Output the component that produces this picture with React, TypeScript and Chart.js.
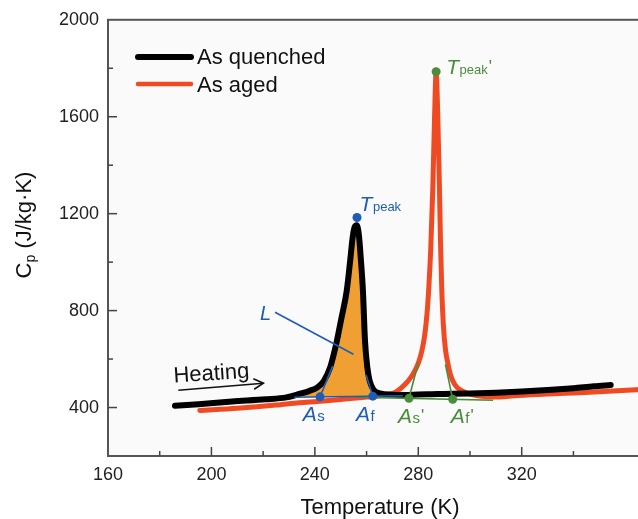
import { useEffect, useRef } from 'react';
import { Chart, registerables } from 'chart.js';

Chart.register(...registerables);

const FONT = '"Liberation Sans", Arial, Helvetica, sans-serif';
const BLUE = '#1f5cb8';
const GREEN = '#4a8c3c';
const RED = '#f04a23';
const ORANGE = '#f0a033';

// As quenched
const quenchedT = [185.9, 195, 208, 221, 229, 234, 238, 241, 243.5, 245.9, 247.2, 248.5, 250.3, 252.3, 253.6, 254.6, 255.4, 256.2, 257, 257.8, 258.6, 259.4, 260.3, 261.2, 262.6, 265.2, 270, 275, 280, 285, 290, 300, 310, 320, 330, 340, 348, 354.4];
const quenchedCp = [407, 414, 425, 434, 442, 456, 469, 483, 510, 565, 615, 674, 770, 880, 1000, 1100, 1145, 1152, 1115, 1010, 880, 674, 565, 510, 475, 458, 453, 452, 454, 455, 456, 458, 461, 466, 472, 480, 488, 493];

// As aged
const agedT = [195.5, 210, 225, 234, 241, 250, 260, 266.4, 271, 274.8, 277.5, 279.9, 281.3, 282.5, 283.4, 284.1, 284.8, 285.6, 286.3, 286.9, 287.5, 288.1, 288.6, 289.1, 289.7, 290.5, 291.5, 292.6, 294.1, 296.3, 299.3, 303, 309, 318.6, 330, 344.4, 366];
const agedCp = [388, 397, 410, 420, 425, 433, 443, 451, 462, 495, 530, 580, 630, 700, 790, 900, 1050, 1300, 1600, 1786, 1620, 1350, 1080, 880, 740, 640, 580, 530, 495, 472, 458, 448, 443, 450, 456, 462, 474];

// Characteristic points (T, Cp)
const blueDotsT = [242.0, 262.4, 256.3];
const blueDotsCp = [444, 447, 1184];
const greenDotsT = [276.4, 293.3, 286.9];
const greenDotsCp = [438, 434, 1786];

// Construction lines: [T0, Cp0, T1, Cp1]
const baselineQuenched = [232, 442.5, 274, 448.7];
const blueSegments = [
  [232, 442.5, 274, 448.7],
  [242.0, 444, 246.9, 572],
  [262.4, 447, 259.8, 535],
  [224.6, 793, 254.9, 620],
];
const greenSegments = [
  [256.3, 443, 308.9, 430],
  [276.4, 438, 280.0, 585],
  [293.3, 434, 290.5, 578],
];

// Text labels anchored in data coords
const labelDefs = [
  { x: 257.3, y: 1209, color: BLUE, main: 'T', sub: 'peak', prime: '' },
  { x: 290.8, y: 1777, color: GREEN, main: 'T', sub: 'peak', prime: "'" },
  { x: 235.3, y: 345, color: BLUE, main: 'A', sub: 's', prime: '' },
  { x: 255.9, y: 345, color: BLUE, main: 'A', sub: 'f', prime: '' },
  { x: 272.2, y: 337, color: GREEN, main: 'A', sub: 's', prime: "'" },
  { x: 292.6, y: 337, color: GREEN, main: 'A', sub: 'f', prime: "'" },
];
const lLabel = { x: 218.8, y: 761 };
const heatingText = { x: 185.5, y: 503 };
const heatingArrow = [187.2, 471.6, 220.1, 500.4];

const pts = (xs: number[], ys: number[]) => xs.map((x, i) => ({ x, y: ys[i] }));

const axesPlugin = {
  id: 'axesDeco',
  beforeDraw(chart: any) {
    const { ctx, chartArea: a } = chart;
    ctx.save();
    ctx.fillStyle = '#ffffff';
    ctx.fillRect(0, 0, chart.width, chart.height);
    ctx.fillStyle = '#fafafa';
    ctx.fillRect(a.left, a.top, a.right - a.left, a.bottom - a.top);
    ctx.restore();
  },
  afterDraw(chart: any) {
    const { ctx, chartArea: a, scales } = chart;
    const xs = scales.x;
    const ys = scales.y;
    const P = (x: number, y: number) => [xs.getPixelForValue(x), ys.getPixelForValue(y)];
    ctx.save();
    // frame
    ctx.strokeStyle = '#555';
    ctx.lineWidth = 2;
    ctx.strokeRect(a.left, a.top, a.right - a.left, a.bottom - a.top);
    // ticks inward
    ctx.lineWidth = 1.5;
    ctx.strokeStyle = '#444';
    ys.ticks.forEach((t: any) => {
      const v = t.value;
      if (v <= ys.min || v >= ys.max) return;
      const py = ys.getPixelForValue(v);
      const len = v % 400 === 0 ? 9 : 5;
      ctx.beginPath();
      ctx.moveTo(a.left, py);
      ctx.lineTo(a.left + len, py);
      ctx.stroke();
    });
    xs.ticks.forEach((t: any) => {
      const v = t.value;
      if (v <= xs.min || v >= xs.max) return;
      const px = xs.getPixelForValue(v);
      const len = v % 40 === 0 ? 9 : 5;
      ctx.beginPath();
      ctx.moveTo(px, a.bottom);
      ctx.lineTo(px, a.bottom - len);
      ctx.stroke();
    });

    // axis titles
    ctx.fillStyle = '#111';
    ctx.textBaseline = 'alphabetic';
    ctx.textAlign = 'center';
    ctx.font = `22px ${FONT}`;
    ctx.fillText('Temperature (K)', 380, 514);

    // y title rotated
    ctx.save();
    ctx.translate(31, 225);
    ctx.rotate(-Math.PI / 2);
    ctx.textAlign = 'left';
    const yParts = [
      { t: 'C', f: `22px ${FONT}`, dy: 0 },
      { t: 'p', f: `14px ${FONT}`, dy: 4 },
      { t: ' (J/kg·K)', f: `22px ${FONT}`, dy: 0 },
    ];
    let w = 0;
    yParts.forEach((p) => { ctx.font = p.f; w += ctx.measureText(p.t).width; });
    let cx = -w / 2;
    yParts.forEach((p) => { ctx.font = p.f; ctx.fillText(p.t, cx, p.dy); cx += ctx.measureText(p.t).width; });
    ctx.restore();

    // legend
    ctx.lineCap = 'round';
    ctx.strokeStyle = '#000';
    ctx.lineWidth = 6;
    ctx.beginPath(); ctx.moveTo(138, 57); ctx.lineTo(191, 57); ctx.stroke();
    ctx.strokeStyle = RED;
    ctx.lineWidth = 4.5;
    ctx.beginPath(); ctx.moveTo(138, 84); ctx.lineTo(191, 84); ctx.stroke();
    ctx.fillStyle = '#111';
    ctx.textAlign = 'left';
    ctx.font = `22px ${FONT}`;
    ctx.fillText('As quenched', 197, 64);
    ctx.fillText('As aged', 197, 92);

    // point labels
    labelDefs.forEach((l) => {
      const [px, py] = P(l.x, l.y);
      ctx.fillStyle = l.color;
      ctx.font = `italic 21px ${FONT}`;
      ctx.fillText(l.main, px, py);
      let x = px + ctx.measureText(l.main).width;
      ctx.font = `${l.sub.length > 1 ? 13 : 15}px ${FONT}`;
      ctx.fillText(l.sub, x + 0.5, py);
      x += ctx.measureText(l.sub).width + 1.5;
      if (l.prime) {
        ctx.font = `17px ${FONT}`;
        ctx.fillText(l.prime, x, py - 2);
      }
    });

    // L label
    {
      const [px, py] = P(lLabel.x, lLabel.y);
      ctx.fillStyle = BLUE;
      ctx.font = `italic 20px ${FONT}`;
      ctx.fillText('L', px, py);
    }

    // Heating text + arrow
    {
      const [px, py] = P(heatingText.x, heatingText.y);
      ctx.save();
      ctx.translate(px, py);
      ctx.rotate(-3.8 * Math.PI / 180);
      ctx.fillStyle = '#111';
      ctx.font = `22px ${FONT}`;
      ctx.fillText('Heating', 0, 0);
      ctx.restore();
      const [x0, y0] = P(heatingArrow[0], heatingArrow[1]);
      const [x1, y1] = P(heatingArrow[2], heatingArrow[3]);
      ctx.strokeStyle = '#111';
      ctx.lineWidth = 1.6;
      ctx.lineCap = 'butt';
      ctx.beginPath(); ctx.moveTo(x0, y0); ctx.lineTo(x1, y1); ctx.stroke();
      const ang = Math.atan2(y1 - y0, x1 - x0);
      const hl = 11;
      ctx.beginPath();
      ctx.moveTo(x1 - hl * Math.cos(ang - 0.5), y1 - hl * Math.sin(ang - 0.5));
      ctx.lineTo(x1, y1);
      ctx.lineTo(x1 - hl * Math.cos(ang + 0.5), y1 - hl * Math.sin(ang + 0.5));
      ctx.stroke();
    }
    ctx.restore();
  },
};

export default function App() {
  const ref = useRef<HTMLCanvasElement | null>(null);
  useEffect(() => {
    if (!ref.current) return;
    const quenched = pts(quenchedT, quenchedCp);
    const aged = pts(agedT, agedCp);
    const fillPts = quenched.filter((p) => p.x >= baselineQuenched[0] && p.x <= baselineQuenched[2]);

    const datasets: any[] = [];
    datasets.push({
      label: 'dots',
      data: [...pts(blueDotsT, blueDotsCp), ...pts(greenDotsT, greenDotsCp)],
      showLine: false,
      pointRadius: 4.5,
      pointBorderWidth: 0,
      pointBackgroundColor: [BLUE, BLUE, BLUE, GREEN, GREEN, GREEN],
      order: 0,
    });
    blueSegments.forEach((s, i) => datasets.push({
      label: 'b' + i,
      data: [{ x: s[0], y: s[1] }, { x: s[2], y: s[3] }],
      borderColor: BLUE, borderWidth: 1.6, pointRadius: 0, tension: 0, order: 1,
    }));
    greenSegments.forEach((s, i) => datasets.push({
      label: 'g' + i,
      data: [{ x: s[0], y: s[1] }, { x: s[2], y: s[3] }],
      borderColor: GREEN, borderWidth: 1.6, pointRadius: 0, tension: 0, order: 1,
    }));
    datasets.push({
      label: 'As quenched',
      data: quenched,
      borderColor: '#000', borderWidth: 6, pointRadius: 0,
      cubicInterpolationMode: 'monotone', tension: 0.4,
      borderCapStyle: 'round', borderJoinStyle: 'round', order: 2,
    });
    const fillIndex = datasets.length;
    datasets.push({
      label: 'fill',
      data: fillPts,
      borderWidth: 0, borderColor: 'rgba(0,0,0,0)', pointRadius: 0,
      cubicInterpolationMode: 'monotone', tension: 0.4,
      fill: { target: fillIndex + 2, above: ORANGE, below: 'rgba(0,0,0,0)' },
      order: 3,
    });
    datasets.push({
      label: 'As aged',
      data: aged,
      borderColor: RED, borderWidth: 5, pointRadius: 0,
      cubicInterpolationMode: 'monotone', tension: 0.4,
      borderCapStyle: 'round', borderJoinStyle: 'round', order: 4,
    });
    datasets.push({
      label: 'baseline',
      data: [{ x: baselineQuenched[0], y: baselineQuenched[1] }, { x: baselineQuenched[2], y: baselineQuenched[3] }],
      borderWidth: 0, borderColor: 'rgba(0,0,0,0)', pointRadius: 0, tension: 0, order: 5,
    });

    const chart = new Chart(ref.current, {
      type: 'line',
      data: { datasets },
      plugins: [axesPlugin],
      options: {
        animation: false,
        responsive: false,
        devicePixelRatio: 1,
        layout: { padding: { left: 0, top: 18, right: 29, bottom: 0 } },
        plugins: { legend: { display: false }, tooltip: { enabled: false } },
        scales: {
          x: {
            type: 'linear', min: 160, max: 370,
            grid: { display: false, drawTicks: false }, border: { display: false },
            ticks: {
              stepSize: 20, padding: 8, color: '#222',
              font: { family: FONT, size: 18 },
              maxRotation: 0, autoSkip: false,
              callback: (v: any) => (Number(v) % 40 === 0 && Number(v) <= 360 ? String(v) : ''),
            },
            afterFit: (s: any) => { s.height = 63; },
          },
          y: {
            type: 'linear', min: 200, max: 2000,
            grid: { display: false, drawTicks: false }, border: { display: false },
            ticks: {
              stepSize: 200, padding: 9, color: '#222',
              font: { family: FONT, size: 18 },
              autoSkip: false,
              callback: (v: any) => (Number(v) % 400 === 0 ? String(v) : ''),
            },
            afterFit: (s: any) => { s.width = 108; },
          },
        },
      } as any,
    });
    return () => chart.destroy();
  }, []);

  return (
    <div style={{ position: 'fixed', left: 0, top: 0, width: 638, height: 519, overflow: 'hidden', background: '#fff' }}>
      <canvas ref={ref} width={680} height={519} style={{ width: 680, height: 519, display: 'block' }} />
    </div>
  );
}
